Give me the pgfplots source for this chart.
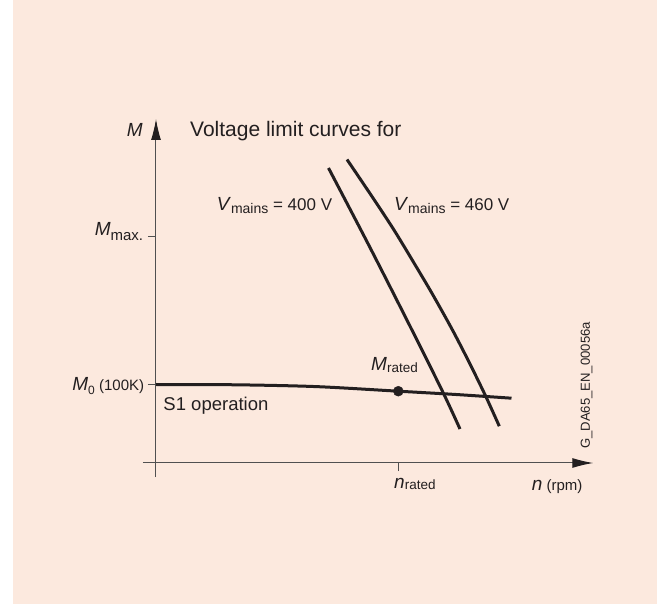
\documentclass[border=0pt]{standalone}
\usepackage{pgfplots}
\pgfplotsset{compat=1.18}
\usepackage{fontspec}
\setmainfont{Liberation Sans}
\usetikzlibrary{arrows.meta}
\definecolor{bg}{RGB}{252,233,222}
\definecolor{ink}{RGB}{35,31,32}
\definecolor{axisc}{RGB}{80,80,80}
\newcommand{\fs}[1]{\fontsize{#1bp}{#1bp}\selectfont}
\begin{document}
\begin{tikzpicture}
\fill[white] (-156bp,-141bp) rectangle (501bp,463bp);
\fill[bg] (-143bp,-141bp) rectangle (501bp,463bp);
\begin{axis}[
  at={(0,0)}, anchor=origin,
  x=1bp, y=1bp,
  xmin=-13, xmax=437.3, ymin=-14, ymax=344,
  enlargelimits=false,
  axis lines=middle,
  clip=false,
  axis line style={draw=axisc, line width=1bp},
  every inner x axis line/.append style={-{Latex[length=21bp,width=10bp,color=ink]}},
  every inner y axis line/.append style={-{Latex[length=21bp,width=10bp,color=ink]}},
  xtick={242.3}, ytick={78.5,226.5},
  xticklabels={}, yticklabels={},
  tick align=outside,
  major tick length=8bp,
  tick style={draw=axisc, line width=1bp},
]
% S1 operation curve
\addplot[ink, line width=3bp, smooth] coordinates {(0,78.5)(80,78.2)(160,76.4)(242.3,71.8)(300,68.5)(355.5,64.8)};
% Voltage limit curve 400 V
\addplot[ink, line width=3bp, smooth] coordinates {(172.5,295)(214,215.5)(255.7,133.5)(287.3,70)(304,34)};
% Voltage limit curve 460 V
\addplot[ink, line width=3bp, smooth] coordinates {(191,303.5)(217,265)(238,233)(258,200)(275.8,170)(296.2,133.5)(313.5,100)(329.7,66.8)(343.3,36.8)};
% rated point
\addplot[only marks, mark=*, mark size=5bp, ink] coordinates {(242.3,71.8)};

\node[anchor=base west, inner sep=0, text=ink] at (axis cs:34,326.3) {\fs{21}Voltage limit curves for};
\node[anchor=base east, inner sep=0, text=ink] at (axis cs:-13,326.3) {\fs{19}\itshape M};
\node[anchor=base, inner sep=0, text=ink] at (axis cs:118.5,253) {\fs{19}\textit{V}\raisebox{-3bp}{\fs{14}mains}\fs{17} = 400 V};
\node[anchor=base, inner sep=0, text=ink] at (axis cs:295.7,252.3) {\fs{19}\textit{V}\raisebox{-3bp}{\fs{14}mains}\fs{17} = 460 V};
\node[anchor=base east, inner sep=0, text=ink] at (axis cs:-12.7,228) {\fs{19}\textit{M}\raisebox{-5.5bp}{\fs{15}max.}};
\node[anchor=base east, inner sep=0, text=ink] at (axis cs:-11.7,73) {\fs{19}\textit{M}\raisebox{-4bp}{\fs{12}0}\fs{15} (100K)};
\node[anchor=base west, inner sep=0, text=ink] at (axis cs:215,93) {\fs{19}\textit{M}\raisebox{-2.5bp}{\fs{13.5}rated}};
\node[anchor=base west, inner sep=0, text=ink] at (axis cs:7.3,52.3) {\fs{18.5}S1 operation};
\node[anchor=base west, inner sep=0, text=ink] at (axis cs:238,-25) {\fs{19}\textit{n}\raisebox{-1bp}{\fs{13.5}rated}};
\node[anchor=base west, inner sep=0, text=ink] at (axis cs:375.7,-27) {\fs{19}\textit{n}\fs{15} (rpm)};
\node[anchor=base west, inner sep=0, text=ink, rotate=90] at (axis cs:434,14) {\fs{13.1}G\_DA65\_EN\_00056a};
\end{axis}
\end{tikzpicture}
\end{document}
